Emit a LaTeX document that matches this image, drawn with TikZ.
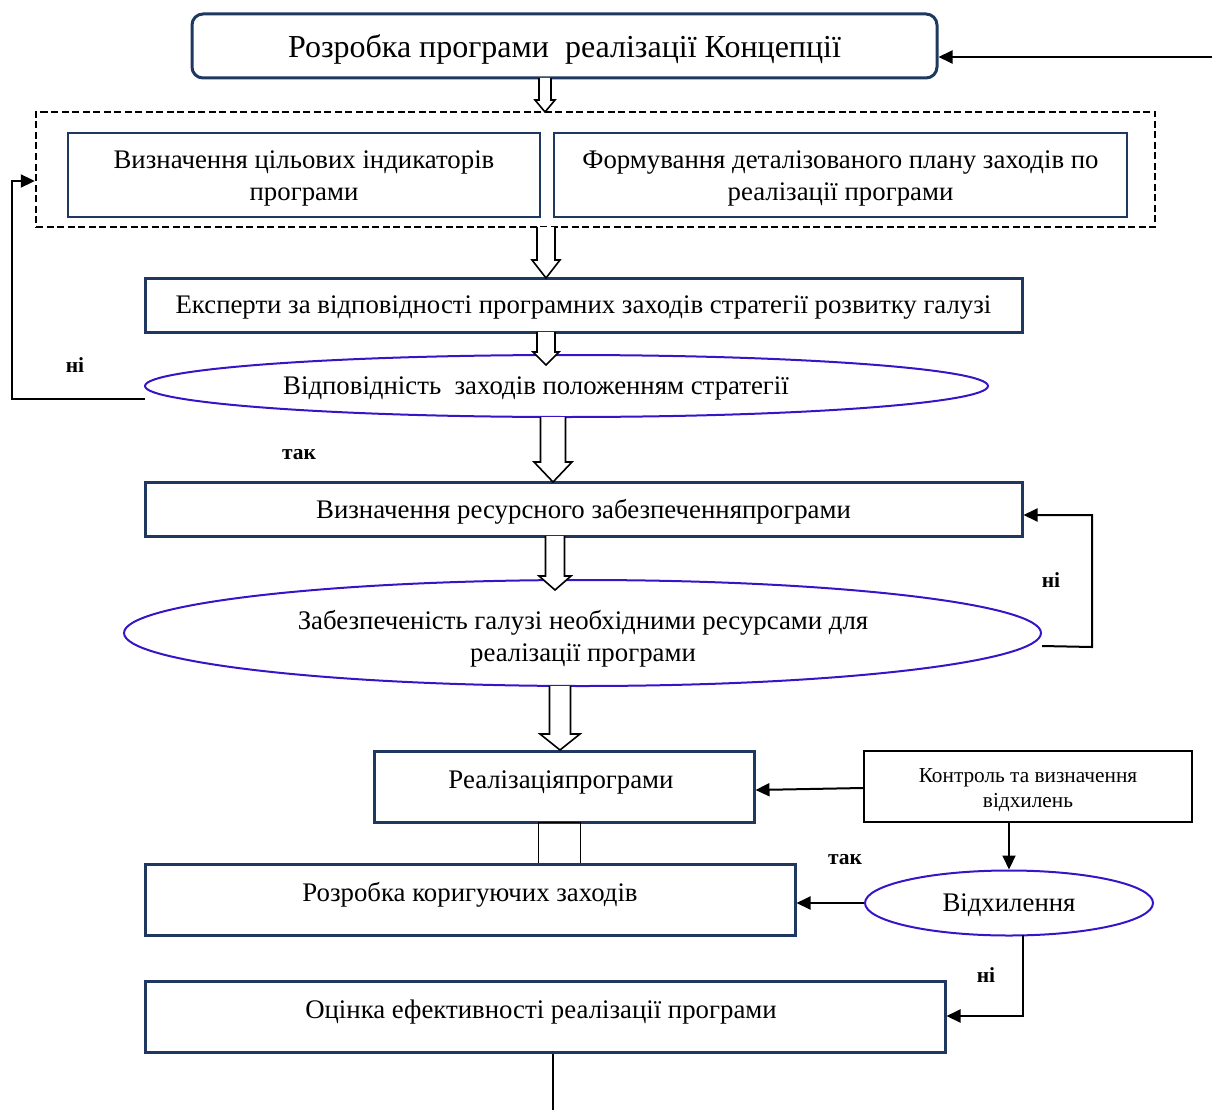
\documentclass[tikz,border=0pt]{standalone}
\usepackage{fontspec}
\setmainfont{Liberation Serif}
\usetikzlibrary{shapes.geometric,arrows.meta}
\definecolor{navy}{RGB}{31,56,96}
\definecolor{ellc}{RGB}{55,20,200}
\newcommand\hollowarr[6]{\draw[harrow] (#1-#4,#2) -- (#1-#4,#3-#6) -- (#1-#5,#3-#6) -- (#1,#3) -- (#1+#5,#3-#6) -- (#1+#4,#3-#6) -- (#1+#4,#2);}
\tikzset{
  mainfont/.style={font=\fontsize{26.8}{32}\selectfont},
  thickbox/.style={draw=navy, line width=3pt, inner sep=0pt},
  thinbox/.style={draw=navy, line width=2pt, inner sep=0pt},
  rbox/.style={thickbox, rounded corners=11pt},
  dbox/.style={draw=black, line width=2.4pt, dash pattern=on 7pt off 3.5pt, inner sep=0pt},
  ell/.style={ellipse, draw=ellc, line width=2pt, inner sep=0pt},
  conn/.style={draw=black, line width=2pt, -{Triangle[length=14pt,width=13pt]}},
  plain/.style={draw=black, line width=2pt},
  harrow/.style={draw=black, line width=1.6pt, fill=white},
  lbl/.style={font=\fontsize{21.5}{24}\selectfont\bfseries, inner sep=0pt},
  txt/.style={mainfont, align=center, inner sep=0pt},
}
\begin{document}
\begin{tikzpicture}[x=1pt,y=-1pt]
\useasboundingbox (0,0) rectangle (1212,1110);

% boxes
\node[rbox, minimum width=745pt, minimum height=64pt] (b1) at (564.5,46) {};
\node[txt, font=\fontsize{32}{36}\selectfont] (b1t) at (564.5,49) {Розробка програми~ реалізації Концепції};
\node[dbox, minimum width=1119pt, minimum height=115pt] (dash) at (595.5,169.5) {};
\node[thinbox, minimum width=472pt, minimum height=84pt] (ba) at (304,175) {};
\node[txt] (bat) at (304,178) {Визначення цільових індикаторів\\програми};
\node[thinbox, minimum width=573pt, minimum height=84pt] (bb) at (840.5,175) {};
\node[txt] (bbt) at (840.5,178) {Формування деталізованого плану заходів по\\реалізації програми};
\node[thickbox, minimum width=877pt, minimum height=54pt] (exp) at (583.5,305) {};
\node[txt] (expt) at (583.5,308) {Експерти за відповідності програмних заходів стратегії розвитку галузі};
\node[ell, minimum width=843pt, minimum height=62pt] (e1) at (566.5,386) {};
\node[txt] (e1t) at (536,388) {Відповідність~ заходів положенням стратегії};
\node[thickbox, minimum width=877pt, minimum height=54pt] (res) at (583.5,509) {};
\node[txt] (rest) at (583.5,511.5) {Визначення ресурсного забезпеченняпрограми};
\node[ell, minimum width=917pt, minimum height=106pt] (e2) at (582.5,633) {};
\node[txt] (e2t) at (583,638.5) {Забезпеченість галузі необхідними ресурсами для\\реалізації програми};
\node[thickbox, minimum width=380pt, minimum height=71pt] (real) at (564,786.5) {};
\node[txt] (realt) at (561,782) {Реалізаціяпрограми};
\node[draw=black, line width=1pt, minimum width=42pt, minimum height=42pt, inner sep=0pt] (sq) at (559,843) {};
\node[draw=black, line width=2pt, minimum width=328pt, minimum height=71pt, inner sep=0pt] (ctl) at (1028,786.5) {};
\node[align=center, inner sep=0pt, font=\fontsize{21.3}{25}\selectfont] (ctlt) at (1028,790.5) {Контроль та визначення\\відхилень};
\node[thickbox, minimum width=650pt, minimum height=71pt] (kor) at (470,900) {};
\node[txt] (kort) at (470,895) {Розробка коригуючих заходів};
\node[ell, minimum width=288pt, minimum height=65pt] (dev) at (1009,903) {};
\node[txt] (devt) at (1009,905) {Відхилення};
\node[thickbox, minimum width=800pt, minimum height=71pt] (ocin) at (545,1016.5) {};
\node[txt] (ocint) at (541,1012) {Оцінка ефективності реалізації програми};

% hollow arrows
\hollowarr{545}{78}{112}{6}{10}{12}
\hollowarr{546}{227}{278}{9}{14}{18}
\hollowarr{546}{332}{365}{9}{13}{13}
\hollowarr{553}{417}{482}{12.5}{19}{20}
\hollowarr{555}{536}{590}{9.5}{16}{14}
\hollowarr{560}{686}{750}{10.5}{20}{16}

% connectors
\coordinate (rin) at (1212,57);
\draw[conn] (rin) -- (rin -| b1.east);

\coordinate (l1) at (145,399);
\coordinate (l2) at (12,399);
\coordinate (l3) at (12,181);
\draw[conn] (l1) -- (l2) -- (l3) -- (l3 -| dash.west);

\coordinate (r1) at (1042,646);
\coordinate (r2) at (1092,647);
\coordinate (r3) at (1092,515);
\draw[conn] (r1) -- (r2) -- (r3) -- (r3 -| res.east);

\draw[conn] (ctl.west |- 0,788) -- (real.east |- 0,790);
\draw[conn] (ctl.south -| dev.north) -- (dev.north);
\draw[conn] (dev.west) -- (kor.east |- dev.west);

\coordinate (d1) at (1023,935);
\coordinate (d2) at (1023,1016);
\draw[conn] (d1) -- (d2) -- (d2 -| ocin.east);

\coordinate (bend) at (553,1110);
\draw[plain] (ocin.south -| bend) -- (bend);

% labels
\node[lbl] (n1) at (75,365) {ні};
\node[lbl] (t1) at (299,455) {так};
\node[lbl] (n2) at (1051,580) {ні};
\node[lbl] (t2) at (845,860) {так};
\node[lbl] (n3) at (986,975) {ні};
\end{tikzpicture}
\end{document}
